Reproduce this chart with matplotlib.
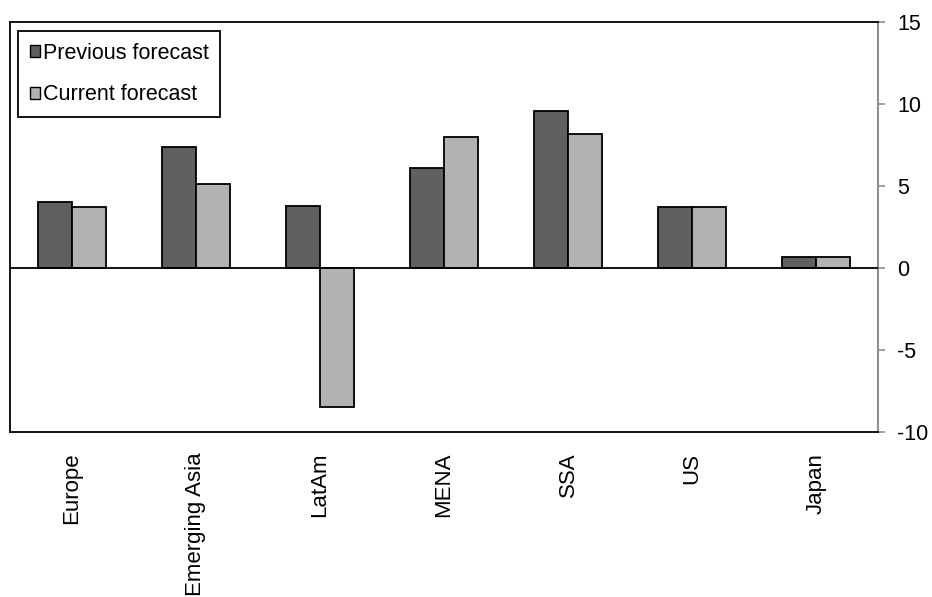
import numpy as np
import matplotlib.pyplot as plt
import matplotlib.patches as mpatches

# ── data ──────────────────────────────────────────────────────────────────────
regions  = ["Europe", "Emerging Asia", "LatAm", "MENA", "SSA", "US", "Japan"]
previous = [4.0, 7.4, 3.8, 6.1, 9.6, 3.7, 0.7]
current  = [3.7, 5.1, -8.5, 8.0, 8.2, 3.7, 0.7]

COL_PREV = "#606060"
COL_CURR = "#b2b2b2"
WIDTH    = 0.274

plt.rcParams["font.family"] = ["Liberation Sans", "DejaVu Sans"]
plt.rcParams["axes.unicode_minus"] = False

fig = plt.figure(figsize=(9.32, 5.97), dpi=100)
ax = fig.add_axes([10/932, 1 - 432/597, 868/932, 410/597])

x = np.arange(len(regions))
ax.bar(x - WIDTH/2, previous, width=WIDTH, color=COL_PREV,
       edgecolor="black", linewidth=1.3, zorder=3)
ax.bar(x + WIDTH/2, current, width=WIDTH, color=COL_CURR,
       edgecolor="black", linewidth=1.3, zorder=3)

ax.axhline(0, color="black", lw=1.3, zorder=4)

ax.set_xlim(-0.5, len(regions) - 0.5)
ax.set_ylim(-10, 15)
ax.set_yticks([-10, -5, 0, 5, 10, 15])

# ── axes styling ──────────────────────────────────────────────────────────────
ax.yaxis.tick_right()
ax.tick_params(axis="y", direction="out", length=5, width=1.2,
               color="#909090", pad=9, labelsize=15.5)
ax.set_xticks(x)
ax.set_xticklabels(regions, rotation=90, fontsize=16, va="top")
ax.tick_params(axis="x", length=0, pad=15)

for side in ("top", "left", "bottom"):
    ax.spines[side].set_color("black")
    ax.spines[side].set_linewidth(1.3)
ax.spines["right"].set_color("#909090")
ax.spines["right"].set_linewidth(1.5)

# ── legend ────────────────────────────────────────────────────────────────────
handles = [
    mpatches.Patch(facecolor=COL_PREV, edgecolor="black", label="Previous forecast"),
    mpatches.Patch(facecolor=COL_CURR, edgecolor="black", label="Current forecast"),
]
leg = ax.legend(handles=handles, loc="upper left", bbox_to_anchor=(0.009, 0.978),
                fontsize=15.5, fancybox=False, framealpha=1, edgecolor="black",
                handlelength=0.5, handleheight=0.5, handletextpad=0.1,
                labelspacing=0.95, borderpad=0.55, borderaxespad=0)
leg.get_frame().set_linewidth(1.3)

fig.savefig("out.png", dpi=100)
